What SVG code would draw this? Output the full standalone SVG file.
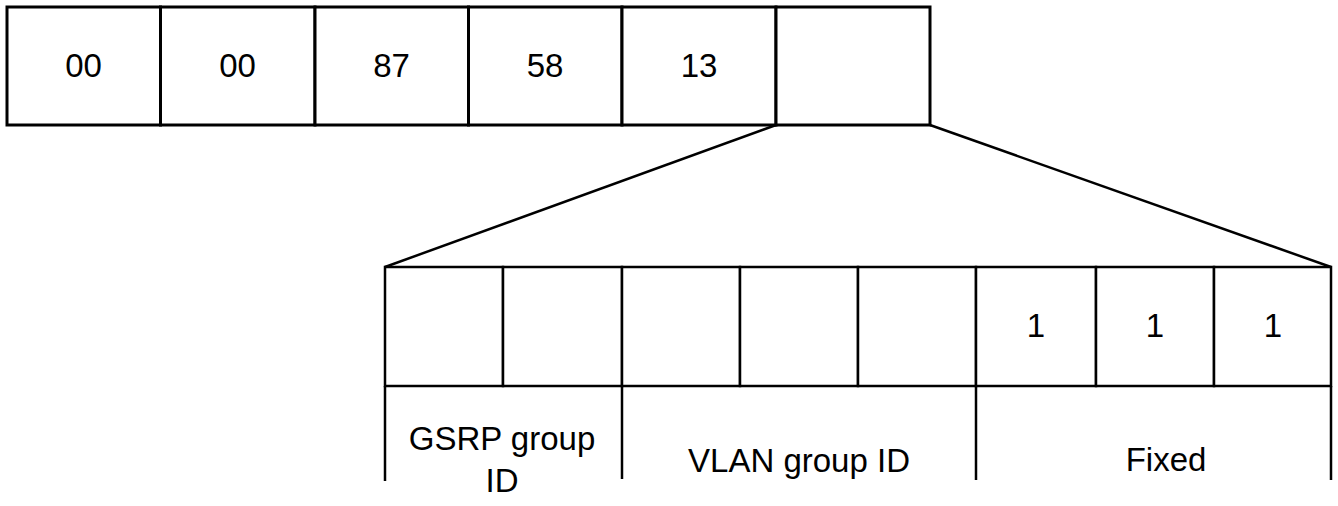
<svg xmlns="http://www.w3.org/2000/svg" width="1338" height="506" viewBox="0 0 1338 506">
<style>
.box{fill:#fff;stroke:#000;stroke-width:3}
.cell{fill:#fff;stroke:#000;stroke-width:2.5}
.ln{stroke:#000;stroke-width:2.5;fill:none}
.t{font-family:"Liberation Sans",Arial,sans-serif;font-size:33px;fill:#000;text-anchor:middle}
</style>
<rect width="1338" height="506" fill="#fff"/>
<g id="connectors">
<line class="ln" x1="776" y1="125" x2="385" y2="267"/>
<line class="ln" x1="930" y1="125" x2="1331" y2="267"/>
</g>
<g id="top-bytes">
<g id="b1"><rect class="box" x="7" y="7" width="153.5" height="118"/><text class="t" x="83.5" y="77">00</text></g>
<g id="b2"><rect class="box" x="160.5" y="7" width="154.5" height="118"/><text class="t" x="237.5" y="77">00</text></g>
<g id="b3"><rect class="box" x="315" y="7" width="153.5" height="118"/><text class="t" x="391.5" y="77">87</text></g>
<g id="b4"><rect class="box" x="468.5" y="7" width="153.5" height="118"/><text class="t" x="545" y="77">58</text></g>
<g id="b5"><rect class="box" x="622" y="7" width="154" height="118"/><text class="t" x="699" y="77">13</text></g>
<g id="b6"><rect class="box" x="776" y="7" width="154" height="118"/></g>
</g>
<g id="bits">
<g id="bit1"><rect class="cell" x="385" y="267" width="118" height="119"/></g>
<g id="bit2"><rect class="cell" x="503" y="267" width="119" height="119"/></g>
<g id="bit3"><rect class="cell" x="622" y="267" width="118" height="119"/></g>
<g id="bit4"><rect class="cell" x="740" y="267" width="118" height="119"/></g>
<g id="bit5"><rect class="cell" x="858" y="267" width="118" height="119"/></g>
<g id="bit6"><rect class="cell" x="976" y="267" width="120" height="119"/><text class="t" x="1036" y="337">1</text></g>
<g id="bit7"><rect class="cell" x="1096" y="267" width="118" height="119"/><text class="t" x="1155" y="337">1</text></g>
<g id="bit8"><rect class="cell" x="1214" y="267" width="117" height="119"/><text class="t" x="1273" y="337">1</text></g>
</g>
<g id="fields">
<g id="gsrp"><line class="ln" x1="385" y1="386" x2="385" y2="481"/><text class="t" x="502" y="450">GSRP group</text><text class="t" x="502" y="492">ID</text></g>
<g id="vlan"><line class="ln" x1="622" y1="386" x2="622" y2="479"/><text class="t" x="799" y="472">VLAN group ID</text></g>
<g id="fixed"><line class="ln" x1="976" y1="386" x2="976" y2="480"/><line class="ln" x1="1331" y1="386" x2="1331" y2="480"/><text class="t" x="1166" y="471">Fixed</text></g>
</g>
</svg>
